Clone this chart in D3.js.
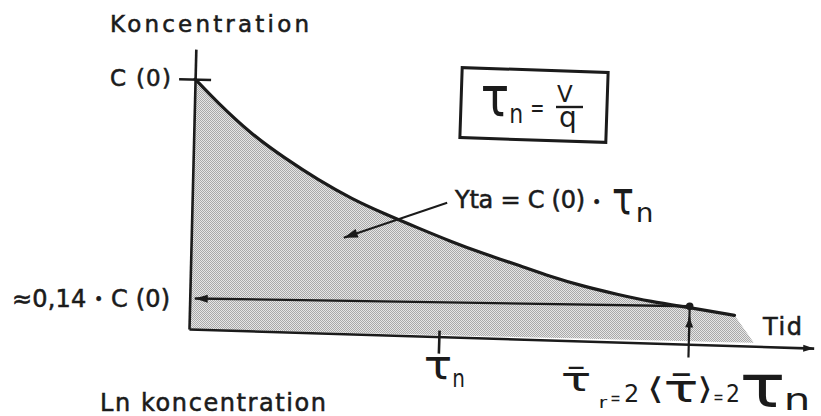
<!DOCTYPE html>
<html>
<head>
<meta charset="utf-8">
<script src="https://cdn.jsdelivr.net/npm/d3@7"></script>
<style>
  html, body { margin: 0; padding: 0; background: #fff; }
  svg { display: block; }
  text { font-family: "DejaVu Sans", sans-serif; fill: #1b1b1b; }
</style>
</head>
<body>
<svg id="chart" width="821" height="416"></svg>
<script>
// Concentration after a pulse: time in units of τn, concentration in units of C(0)
const timeTau = [0, 0.09, 0.23, 0.37, 0.5, 0.64, 0.77, 0.91, 1.04, 1.17, 1.31, 1.44, 1.57, 1.71, 1.84, 2.01, 2.18];
const concRel = [1.0, 0.91, 0.785, 0.69, 0.61, 0.535, 0.48, 0.425, 0.375, 0.33, 0.288, 0.245, 0.21, 0.18, 0.155, 0.133, 0.108];
// shaded region runs slightly past the last curve point down to the axis
const shadeTailTime = [2.26];
const shadeTailConc = [0];

// marked values
const tickTimes = [1];        // τn
const tickConcs = [1];        // C(0)
const meanTime = 2;           // 2·τn
const meanConc = 0.14;        // ≈0,14·C(0)
const areaArrowFrom = [1.02, 0.53];
const areaArrowTo = [0.61, 0.38];

const ink = "#1b1b1b";
const frame = "translate(189,329) rotate(1.4)";   // the sheet sits slightly tilted
const svg = d3.select("#chart");

// ---- defs: halftone fill and arrowheads ----
const defs = svg.append("defs");
const pat = defs.append("pattern").attr("id", "halftone")
  .attr("width", 2).attr("height", 2).attr("patternUnits", "userSpaceOnUse");
pat.append("rect").attr("width", 2).attr("height", 2).attr("fill", "#e6e6e6");
pat.append("rect").attr("width", 1).attr("height", 1).attr("fill", "#a9a9a9");
pat.append("rect").attr("x", 1).attr("y", 1).attr("width", 1).attr("height", 1).attr("fill", "#a9a9a9");

function arrowMarker(id, len, half) {
  defs.append("marker").attr("id", id)
    .attr("markerUnits", "userSpaceOnUse")
    .attr("viewBox", `${-len - 1} ${-half - 1} ${len + 2} ${2 * half + 2}`)
    .attr("markerWidth", len + 2).attr("markerHeight", 2 * half + 2)
    .attr("refX", 0).attr("refY", 0).attr("orient", "auto")
    .append("path").attr("d", `M${-len},${-half}L0,0L${-len},${half}Z`).attr("fill", ink);
}
arrowMarker("headAxis", 11, 3.5);
arrowMarker("headH", 13, 4);
arrowMarker("headV", 10, 4);
arrowMarker("headLead", 14, 4.5);

// ---- scales ----
const x = d3.scaleLinear().domain([0, 2.5]).range([0, 625]);
const y = d3.scaleLinear().domain([0, 1.12]).range([0, -280]);

const pts = timeTau.map((t, i) => ({ t, c: concRel[i] }));
const last = pts[pts.length - 1];
const tail = [last].concat(shadeTailTime.map((t, i) => ({ t, c: shadeTailConc[i] })), [{ t: last.t, c: 0 }]);

// shaded area under the curve: screen-aligned halftone clipped to the area
const areaGen = d3.area().x(d => x(d.t)).y0(y(0)).y1(d => y(d.c)).curve(d3.curveBasis);
const clip = defs.append("clipPath").attr("id", "areaClip");
clip.append("path").attr("transform", frame).attr("d", areaGen(pts));
clip.append("path").attr("transform", frame)
  .attr("d", d3.line().x(d => x(d.t)).y(d => y(d.c))(tail) + "Z");
svg.append("rect")
  .attr("x", 170).attr("y", 60).attr("width", 600).attr("height", 300)
  .attr("fill", "url(#halftone)").attr("clip-path", "url(#areaClip)");

const g = svg.append("g").attr("transform", frame);

// y axis with C(0) cross tick
const yAxis = g.append("g")
  .call(d3.axisLeft(y).tickValues(tickConcs).tickSizeInner(16).tickSizeOuter(0).tickFormat(""));
yAxis.selectAll(".tick line").attr("x1", 16);
yAxis.selectAll("path, line").attr("stroke", ink).attr("stroke-width", 2.6);

// x axis with τn tick and arrow
const xAxis = g.append("g").attr("transform", "rotate(0.35)")
  .call(d3.axisBottom(x).tickValues(tickTimes).tickSizeInner(17).tickSizeOuter(0).tickFormat(""));
xAxis.selectAll(".tick line").attr("y1", -6);
xAxis.selectAll("path, line").attr("stroke", ink).attr("stroke-width", 2.6);
xAxis.select(".domain").attr("marker-end", "url(#headAxis)");

// decay curve
g.append("path")
  .datum(pts)
  .attr("d", d3.line().x(d => x(d.t)).y(d => y(d.c)).curve(d3.curveBasis))
  .attr("fill", "none").attr("stroke", ink).attr("stroke-width", 3.2)
  .attr("stroke-linecap", "round");

// horizontal arrow from the mean residence point to the concentration axis
const hArrow = g.append("g").attr("transform", `rotate(-0.5,${x(meanTime)},${y(meanConc)})`);
hArrow.append("line")
  .attr("x1", x(meanTime)).attr("y1", y(meanConc))
  .attr("x2", x(0) + 5).attr("y2", y(meanConc))
  .attr("stroke", ink).attr("stroke-width", 2.4)
  .attr("marker-end", "url(#headH)");

// vertical arrow up to the point at 2·τn
g.append("line")
  .attr("x1", x(meanTime)).attr("y1", y(-0.065))
  .attr("x2", x(meanTime)).attr("y2", y(meanConc))
  .attr("stroke", ink).attr("stroke-width", 2.2);
g.append("line")
  .attr("x1", x(meanTime)).attr("y1", y(0.02))
  .attr("x2", x(meanTime)).attr("y2", y(0.095))
  .attr("stroke", ink).attr("stroke-width", 2.2)
  .attr("marker-end", "url(#headV)");
g.append("circle")
  .attr("cx", x(meanTime)).attr("cy", y(meanConc)).attr("r", 3.8).attr("fill", ink);

// leader into the area
g.append("line")
  .attr("x1", x(areaArrowFrom[0])).attr("y1", y(areaArrowFrom[1]))
  .attr("x2", x(areaArrowTo[0])).attr("y2", y(areaArrowTo[1]))
  .attr("stroke", ink).attr("stroke-width", 2)
  .attr("marker-end", "url(#headLead)");

// ---- text ----
function label(parts, px, baseline, size, len) {
  const t = svg.append("text").attr("x", px).attr("y", baseline).attr("font-size", size)
    .attr("stroke", ink).attr("stroke-width", 0.55);
  parts.forEach(p => {
    const s = t.append("tspan").text(p.s);
    if (p.size) s.attr("font-size", p.size);
    if (p.dy) s.attr("dy", p.dy);
  });
  if (len) t.attr("textLength", len).attr("lengthAdjust", "spacing");
  return t;
}

// places a glyph run so its inked extent fills the given box
const measure = document.createElement("canvas").getContext("2d");
function fit(str, x0, y0, x1, y1, size) {
  measure.font = `${size}px "DejaVu Sans"`;
  const m = measure.measureText(str);
  const l = -m.actualBoundingBoxLeft, r = m.actualBoundingBoxRight;
  const t = -m.actualBoundingBoxAscent, b = m.actualBoundingBoxDescent;
  const sx = (x1 - x0) / (r - l), sy = (y1 - y0) / (b - t);
  svg.append("text")
    .attr("transform", `translate(${x0 - l * sx},${y0 - t * sy}) scale(${sx},${sy})`)
    .attr("font-size", size).text(str);
}

label([{ s: "Koncentration" }], 110, 32, 23, 199);
label([{ s: "C (0)" }], 110, 86, 23, 61);
label([{ s: "≈0,14 " }, { s: "•", size: 15, dy: -2 }, { s: " C (0)", dy: 2 }], 12, 307, 24, 158);
label([{ s: "Yta = C (0) " }, { s: "•", size: 15 }], 455, 208, 24, 146);
label([{ s: "Tid" }], 763, 335, 24, 39);
label([{ s: "Ln koncentration" }], 100, 411, 24, 226);

// τn = V / q in a frame
svg.append("rect")
  .attr("x", 461).attr("y", 70).attr("width", 146).attr("height", 70)
  .attr("transform", "rotate(1.9,534,105)")
  .attr("fill", "none").attr("stroke", ink).attr("stroke-width", 3);
fit("τ", 482, 85, 508, 117, 40);
fit("n", 511, 108, 522, 123, 24);
fit("=", 532, 105, 543, 112, 20);
const frac = svg.append("text").attr("font-size", 23);
frac.append("tspan").attr("x", 557).attr("y", 102).text("V");
frac.append("tspan").attr("x", 559).attr("y", 127).attr("font-size", 28).text("q");
svg.append("line").attr("x1", 556).attr("x2", 583).attr("y1", 107).attr("y2", 107)
  .attr("stroke", ink).attr("stroke-width", 2.4);

// τ parts of the area label
fit("τ", 613, 188, 633, 215, 40);
fit("n", 638, 207, 652, 222, 24);

// τn under the tick
fit("τ", 425, 357, 451, 380, 40);
fit("n", 454, 373, 464, 387, 24);

// mean residence time relation
fit("τ̄", 562, 367, 590, 392, 40);
fit("r", 600, 398, 608, 408, 18);
fit("=", 611, 395, 620, 402, 18);
fit("2", 625, 383, 637, 402, 24);
fit("⟨", 650, 375, 661, 403, 28);
fit("τ̄", 665, 372, 697, 403, 40);
fit("⟩", 700, 375, 710, 403, 28);
fit("=", 714, 394, 723, 401, 18);
fit("2", 727, 383, 738, 402, 24);
fit("τ", 743, 375, 783, 408, 44);
fit("n", 787, 393, 808, 410, 26);
</script>
</body>
</html>
